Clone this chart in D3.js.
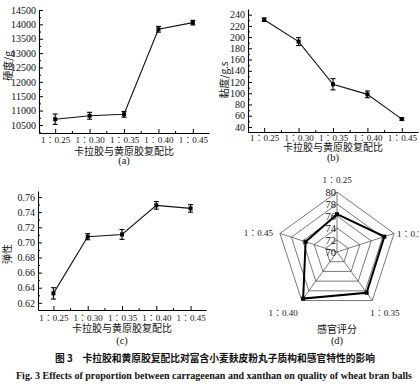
<!DOCTYPE html>
<html><head><meta charset="utf-8">
<script src="https://cdn.jsdelivr.net/npm/d3@7"></script>
<style>
body{margin:0;background:#fff;}
svg{display:block;}
text{font-family:"Liberation Serif","Noto Sans CJK JP",serif;fill:#111;}
.cn{font-family:"Noto Sans CJK SC",sans-serif;}
</style></head><body>
<svg id="c" width="419" height="390"></svg>
<script>
const categories = ["1：0.25","1：0.30","1：0.35","1：0.40","1：0.45"];
const hardness = [10700, 10820, 10870, 13830, 14060];
const hardnessErr = [180, 120, 100, 100, 80];
const hardnessTicks = [10500,11000,11500,12000,12500,13000,13500,14000,14500];
const viscosity = [231, 192, 116, 98, 54];
const viscosityErr = [3, 7, 10, 6, 2];
const viscosityTicks = [40,60,80,100,120,140,160,180,200,220,240];
const elasticity = [0.6325, 0.7075, 0.7105, 0.749, 0.745];
const elasticityErr = [0.0075, 0.004, 0.0065, 0.005, 0.005];
const elasticityTicks = [0.62,0.64,0.66,0.68,0.70,0.72,0.74,0.76];
const sensory = [76.3, 78.3, 78.4, 79.6, 75.5];
const sensoryTicks = [70,72,74,76,78,80];
const xTitle = "卡拉胶与黄原胶复配比";

const svg = d3.select("#c");
svg.append("rect").attr("width",419).attr("height",390).attr("fill","#fff");

function catLabel(sel){
  sel.attr("font-size",9).style("font-family","'Liberation Serif','Noto Sans CJK JP',serif");
}

function linePanel(o){
  const g = svg.append("g");
  const x = d3.scalePoint().domain(categories).range([o.left,o.right]).padding(o.pad);
  const y = d3.scaleLinear().domain(o.domain).range([o.bottom,o.top]);
  const minorY = [];
  for(let i=0;i<o.ticks.length-1;i++) minorY.push((o.ticks[i]+o.ticks[i+1])/2);
  if(o.ticks[0]-(o.ticks[1]-o.ticks[0])/2 > o.domain[0]) minorY.push(o.ticks[0]-(o.ticks[1]-o.ticks[0])/2);
  const ya = g.append("g").attr("transform",`translate(${o.left},0)`)
    .call(d3.axisLeft(y).tickValues(o.ticks).tickFormat(o.fmt).tickSizeInner(-4).tickSizeOuter(0).tickPadding(3));
  ya.selectAll("text").attr("font-size",10).style("font-family","Liberation Serif");
  g.append("g").attr("transform",`translate(${o.left},0)`)
    .call(d3.axisLeft(y).tickValues(minorY).tickFormat("").tickSizeInner(-2).tickSizeOuter(0))
    .select(".domain").remove();
  const xa = g.append("g").attr("transform",`translate(0,${o.bottom})`)
    .call(d3.axisBottom(x).tickSizeInner(-4).tickSizeOuter(0).tickPadding(0));
  xa.selectAll(".tick text").attr("dy",null).attr("y",o.tickOff).call(catLabel);
  const xs = categories.map(c=>x(c));
  const mids = [];
  for(let i=0;i<xs.length-1;i++) mids.push((xs[i]+xs[i+1])/2);
  g.selectAll(".mx").data(mids).join("line").attr("x1",d=>d).attr("x2",d=>d)
    .attr("y1",o.bottom).attr("y2",o.bottom-2).attr("stroke","#000");
  g.selectAll(".domain").attr("stroke","#000").attr("stroke-width",1.1);
  g.append("path").datum(o.vals).attr("fill","none").attr("stroke","#111").attr("stroke-width",1.1)
    .attr("d",d3.line().x((d,i)=>x(categories[i])).y(d=>y(d)));
  o.vals.forEach((v,i)=>{
    const cx = x(categories[i]), e=o.err[i];
    g.append("line").attr("x1",cx).attr("x2",cx).attr("y1",y(v-e)).attr("y2",y(v+e)).attr("stroke","#000").attr("stroke-width",1.1);
    [v-e,v+e].forEach(w=>g.append("line").attr("x1",cx-2.5).attr("x2",cx+2.5).attr("y1",y(w)).attr("y2",y(w)).attr("stroke","#000").attr("stroke-width",1.1));
    g.append("rect").attr("x",cx-2).attr("y",y(v)-2).attr("width",4).attr("height",4).attr("fill","#000");
  });
  const mid = (xs[0]+xs[4])/2;
  g.append("text").attr("class","cn").attr("x",mid).attr("y",o.bottom+o.titleOff)
    .attr("text-anchor","middle").attr("font-size",10).text(xTitle);
  g.append("text").attr("x",mid).attr("y",o.bottom+o.tagOff)
    .attr("text-anchor","middle").attr("font-size",10.5).text(o.tag);
  g.append("text").attr("class","cn").attr("transform",`translate(${o.ylx},${o.yly}) rotate(-90)`)
    .attr("text-anchor","middle").attr("font-size",10).text(o.ytitle);
}

linePanel({left:39,right:209,pad:0.47,top:10,bottom:133,domain:[10220,14500],ticks:hardnessTicks,
  fmt:d3.format("d"),vals:hardness,err:hardnessErr,tag:"(a)",ytitle:"硬度/g",ylx:12,yly:66,
  tickOff:10,titleOff:21.5,tagOff:31});
linePanel({left:248,right:418,pad:0.47,top:9,bottom:132,domain:[31,250],ticks:viscosityTicks,
  fmt:d3.format("d"),vals:viscosity,err:viscosityErr,tag:"(b)",ytitle:"黏度/g.s",ylx:228,yly:80,
  tickOff:8.5,titleOff:19,tagOff:28.5});
linePanel({left:38,right:206,pad:0.45,top:191,bottom:310,domain:[0.6105,0.768],ticks:elasticityTicks,
  fmt:d3.format(".2f"),vals:elasticity,err:elasticityErr,tag:"(c)",ytitle:"弹性",ylx:11,yly:254,
  tickOff:10.5,titleOff:21.5,tagOff:34});

(function(){
  const cx=337, cy=252, R=60;
  const g = svg.append("g").attr("transform",`translate(${cx},${cy})`);
  const r = d3.scaleLinear().domain([70,80]).range([0,R]);
  const angle = c => categories.indexOf(c)*2*Math.PI/categories.length;
  const pt = (c,v)=>[Math.sin(angle(c))*r(v), -Math.cos(angle(c))*r(v)];
  sensoryTicks.slice(1).forEach(t=>{
    g.append("path").attr("fill","none").attr("stroke","#555").attr("stroke-width",0.8)
      .attr("d",d3.line()(categories.map(c=>pt(c,t)).concat([pt(categories[0],t)])));
  });
  categories.forEach(c=>{
    const p=pt(c,80);
    g.append("line").attr("x1",0).attr("y1",0).attr("x2",p[0]).attr("y2",p[1]).attr("stroke","#555").attr("stroke-width",0.8);
  });
  sensoryTicks.forEach(t=>{
    g.append("text").attr("x",-1).attr("y",-r(t)+4).attr("text-anchor","end").attr("font-size",10.5).text(t);
  });
  g.append("path").attr("fill","none").attr("stroke","#000").attr("stroke-width",2)
    .attr("d",d3.line()(categories.map((c,i)=>pt(c,sensory[i])).concat([pt(categories[0],sensory[0])])));
  categories.forEach((c,i)=>{
    const p=pt(c,sensory[i]);
    g.append("rect").attr("x",p[0]-2).attr("y",p[1]-2).attr("width",4).attr("height",4).attr("fill","#000");
  });
  const lab = [[0,-69,"middle"],[60,-15,"start"],[48,64,"middle"],[-54,64,"middle"],[-64,-16,"end"]];
  categories.forEach((c,i)=>{
    g.append("text").attr("x",lab[i][0]).attr("y",lab[i][1]).attr("text-anchor",lab[i][2]).call(catLabel).text(c);
  });
  g.append("text").attr("class","cn").attr("x",0).attr("y",81).attr("text-anchor","middle").attr("font-size",10).text("感官评分");
  g.append("text").attr("x",0).attr("y",92).attr("text-anchor","middle").attr("font-size",10.5).text("(d)");
})();

svg.append("text").attr("class","cn").attr("x",215).attr("y",362).attr("text-anchor","middle")
  .attr("font-size",10).attr("font-weight","bold").attr("textLength",320).attr("lengthAdjust","spacingAndGlyphs")
  .text("图 3　卡拉胶和黄原胶复配比对富含小麦麸皮粉丸子质构和感官特性的影响");
svg.append("text").attr("x",214).attr("y",379).attr("text-anchor","middle")
  .attr("font-size",9.5).attr("font-weight","bold").attr("textLength",396).attr("lengthAdjust","spacingAndGlyphs")
  .text("Fig. 3    Effects of proportion between carrageenan and xanthan on quality of wheat bran balls");
</script></body></html>
